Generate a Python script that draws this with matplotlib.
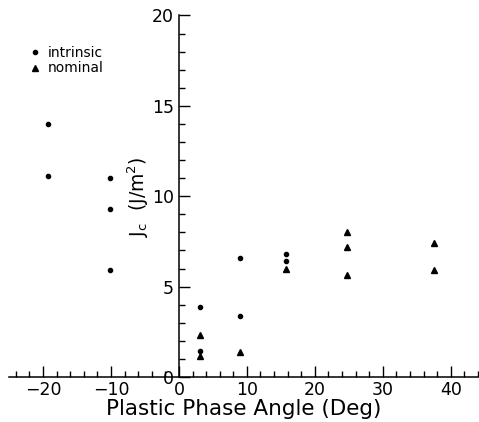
import numpy as np
import matplotlib
matplotlib.use("Agg")
import matplotlib.pyplot as plt
from matplotlib.ticker import MultipleLocator

# intrinsic toughness (circles)
intr_x = [-19.3, -19.3, -10.1, -10.1, -10.1, 3.1, 3.1, 9.0, 9.0, 15.8, 15.8]
intr_y = [14.0, 11.1, 11.0, 9.3, 5.9, 3.9, 1.45, 6.6, 3.35, 6.8, 6.4]

# nominal toughness (triangles)
nom_x = [3.1, 3.1, 9.0, 15.8, 24.7, 24.7, 24.7, 37.5, 37.5]
nom_y = [2.3, 1.15, 1.4, 6.0, 8.0, 7.2, 5.65, 7.4, 5.9]

x_ticks = [-20, -10, 0, 10, 20, 30, 40]
y_ticks = [0, 5, 10, 15, 20]

fig = plt.figure(figsize=(4.79, 4.22), dpi=100)
ax = fig.add_axes([0.0188, 0.1066, 0.979, 0.8567])

ax.plot(intr_x, intr_y, "o", color="black", markersize=3, label="intrinsic", clip_on=False)
ax.plot(nom_x, nom_y, "^", color="black", markersize=3.8, label="nominal", clip_on=False)

ax.set_xlim(-25, 44)
ax.set_ylim(0, 20)

# axes through the origin
ax.spines["left"].set_position(("data", 0))
ax.spines["right"].set_visible(False)
ax.spines["top"].set_visible(False)
for s in ["left", "bottom"]:
    ax.spines[s].set_linewidth(1.1)

ax.set_xticks(x_ticks)
ax.set_yticks(y_ticks)
ax.xaxis.set_minor_locator(MultipleLocator(2))
ax.yaxis.set_minor_locator(MultipleLocator(1))
ax.tick_params(which="both", direction="in", width=1.0, labelsize=12.5)
ax.tick_params(which="major", length=8)
ax.tick_params(which="minor", length=4)
ax.tick_params(axis="x", pad=3)
ax.set_xticklabels([str(v).replace("-", "\u2212") for v in x_ticks])

ax.set_xlabel("Plastic Phase Angle (Deg)", fontsize=15.5, labelpad=0)
ax.text(-6.0, 10.0, r"J$_\mathrm{c}$  (J/m$^2$)", rotation=90, fontsize=13.5,
        ha="center", va="center")

ax.legend(loc="upper left", bbox_to_anchor=(0.012, 0.95), frameon=False, fontsize=10,
          handletextpad=0.3, labelspacing=0.1, handlelength=1.2, borderaxespad=0.5)

fig.savefig("out.png", dpi=100)
